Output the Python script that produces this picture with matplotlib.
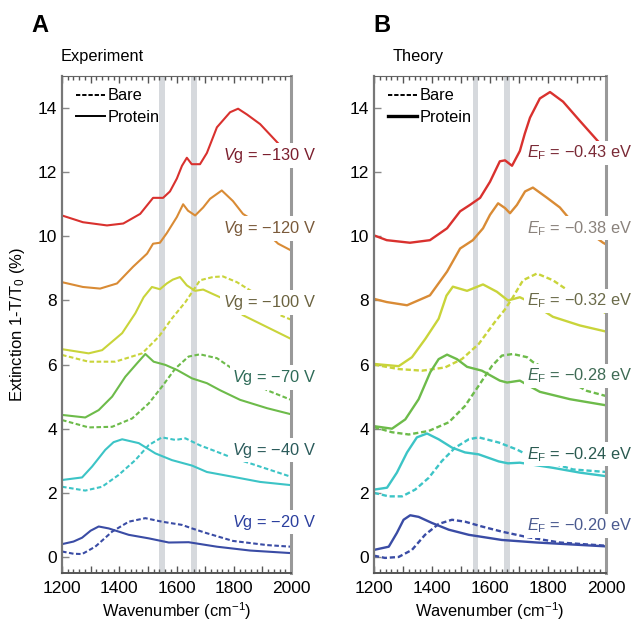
import matplotlib
matplotlib.use("Agg")
import matplotlib.pyplot as plt
from matplotlib.lines import Line2D
from matplotlib.ticker import MultipleLocator, FuncFormatter

plt.rcParams['font.family'] = ['Liberation Sans', 'DejaVu Sans']
plt.rcParams['mathtext.fontset'] = 'custom'
plt.rcParams['mathtext.rm'] = 'Liberation Sans'
plt.rcParams['mathtext.it'] = 'Liberation Sans:italic'

# line colours (same order for both panels, top to bottom)
line_colors = ['#d9312e', '#d98b35', '#c9d43a', '#6dbb4a', '#3cc4c6', '#3a4ca5']

# ---- Experiment (panel A) ----
exp_labels = [r'$V$g = −130 V', r'$V$g = −120 V', r'$V$g = −100 V',
              r'$V$g = −70 V', r'$V$g = −40 V', r'$V$g = −20 V']
exp_label_colors = ['#7b1f2e', '#7a5a3a', '#6b6340', '#2e6b58', '#2b5b5b', '#2b3f9e']
exp_label_y = [12.52, 10.25, 7.94, 5.6, 3.33, 1.09]

exp_130_x = [1200, 1273, 1357, 1414, 1473, 1518, 1553, 1577, 1601, 1619, 1636, 1653, 1682, 1706, 1741, 1787, 1815, 1846, 1892, 1955, 2000]
exp_130_y = [10.65, 10.44, 10.34, 10.4, 10.7, 11.2, 11.2, 11.4, 11.8, 12.2, 12.45, 12.25, 12.25, 12.6, 13.4, 13.87, 13.98, 13.8, 13.5, 12.9, 12.5]

exp_120_x = [1200, 1273, 1333, 1392, 1448, 1497, 1518, 1542, 1566, 1601, 1623, 1640, 1665, 1693, 1717, 1758, 1797, 1832, 1867, 1955, 2000]
exp_120_y = [8.57, 8.42, 8.37, 8.53, 9.05, 9.46, 9.77, 9.8, 10.1, 10.6, 11.0, 10.8, 10.65, 10.9, 11.17, 11.43, 11.1, 10.7, 10.5, 9.77, 9.56]

exp_100_x = [1200, 1293, 1340, 1410, 1456, 1485, 1514, 1542, 1566, 1587, 1612, 1636, 1665, 1693, 1727, 1752, 1832, 1916, 2000]
exp_100_y = [6.48, 6.35, 6.45, 6.98, 7.6, 8.1, 8.42, 8.35, 8.53, 8.65, 8.73, 8.47, 8.3, 8.34, 8.2, 8.1, 7.54, 7.17, 6.8]
exp_100_bare_x = [1200, 1293, 1386, 1480, 1538, 1584, 1631, 1682, 1727, 1762, 1811, 1867, 1962, 2000]
exp_100_bare_y = [6.3, 6.09, 6.09, 6.35, 6.87, 7.44, 7.95, 8.63, 8.73, 8.75, 8.57, 8.26, 7.54, 7.4]

exp_70_x = [1200, 1281, 1328, 1375, 1421, 1462, 1491, 1520, 1561, 1602, 1654, 1706, 1752, 1822, 1916, 2000]
exp_70_y = [4.43, 4.35, 4.58, 5.0, 5.62, 6.04, 6.33, 6.09, 5.99, 5.83, 5.57, 5.42, 5.2, 4.9, 4.64, 4.45]
exp_70_bare_x = [1200, 1293, 1375, 1445, 1503, 1549, 1596, 1642, 1682, 1741, 1787, 1916, 2000]
exp_70_bare_y = [4.27, 4.04, 4.06, 4.32, 4.79, 5.31, 5.88, 6.25, 6.32, 6.2, 5.92, 5.2, 4.9]

exp_40_x = [1200, 1270, 1305, 1351, 1380, 1410, 1468, 1526, 1584, 1654, 1706, 1797, 1892, 2000]
exp_40_y = [2.4, 2.48, 2.82, 3.34, 3.58, 3.67, 3.55, 3.23, 3.02, 2.85, 2.65, 2.5, 2.34, 2.24]
exp_40_bare_x = [1200, 1281, 1340, 1398, 1456, 1503, 1549, 1596, 1631, 1682, 1741, 1787, 1857, 2000]
exp_40_bare_y = [2.19, 2.07, 2.19, 2.56, 3.02, 3.49, 3.73, 3.65, 3.7, 3.48, 3.28, 3.12, 2.92, 2.5]

exp_20_x = [1200, 1240, 1270, 1300, 1328, 1363, 1433, 1503, 1573, 1642, 1741, 1857, 2000]
exp_20_y = [0.4, 0.48, 0.6, 0.82, 0.95, 0.89, 0.69, 0.58, 0.45, 0.46, 0.32, 0.2, 0.12]
exp_20_bare_x = [1200, 1240, 1270, 1316, 1345, 1375, 1433, 1491, 1549, 1619, 1654, 1706, 1797, 1916, 2000]
exp_20_bare_y = [0.17, 0.1, 0.09, 0.32, 0.55, 0.79, 1.1, 1.21, 1.1, 1.0, 0.89, 0.74, 0.5, 0.37, 0.32]

# ---- Theory (panel B) ----
th_labels = [r'$E_{\mathrm{F}}$ = −0.43 eV', r'$E_{\mathrm{F}}$ = −0.38 eV', r'$E_{\mathrm{F}}$ = −0.32 eV',
             r'$E_{\mathrm{F}}$ = −0.28 eV', r'$E_{\mathrm{F}}$ = −0.24 eV', r'$E_{\mathrm{F}}$ = −0.20 eV']
th_label_colors = ['#7a2a36', '#8a827c', '#6b6b4a', '#3f6b55', '#2a5a50', '#4a5a8f']
th_label_y = [12.6, 10.25, 7.99, 5.64, 3.2, 0.97]

th_43_x = [1200, 1244, 1324, 1393, 1452, 1497, 1531, 1566, 1600, 1634, 1652, 1676, 1703, 1720, 1738, 1772, 1807, 1852, 1910, 1972, 2000]
th_43_y = [10.03, 9.88, 9.8, 9.88, 10.25, 10.78, 10.98, 11.2, 11.7, 12.34, 12.37, 12.2, 12.66, 13.2, 13.7, 14.3, 14.5, 14.2, 13.6, 12.97, 12.7]

th_38_x = [1200, 1244, 1314, 1393, 1452, 1497, 1541, 1576, 1600, 1628, 1652, 1669, 1693, 1721, 1748, 1797, 1841, 1869, 1990, 2000]
th_38_y = [8.05, 7.95, 7.85, 8.16, 8.9, 9.62, 9.88, 10.25, 10.67, 11.03, 10.88, 10.72, 10.98, 11.4, 11.52, 11.2, 10.9, 10.6, 9.8, 9.75]

th_32_x = [1200, 1285, 1331, 1377, 1423, 1450, 1472, 1521, 1576, 1624, 1662, 1703, 1738, 1817, 1910, 2000]
th_32_y = [6.02, 5.95, 6.23, 6.8, 7.43, 8.15, 8.43, 8.3, 8.5, 8.27, 8.0, 8.1, 7.95, 7.49, 7.22, 7.03]
th_32_bare_x = [1200, 1285, 1366, 1445, 1503, 1561, 1617, 1650, 1679, 1714, 1762, 1817, 1876, 2000]
th_32_bare_y = [6.0, 5.86, 5.81, 5.91, 6.17, 6.64, 7.33, 7.7, 8.1, 8.63, 8.84, 8.63, 8.27, 7.6]

th_28_x = [1200, 1262, 1308, 1354, 1394, 1423, 1452, 1486, 1521, 1572, 1634, 1659, 1703, 1738, 1772, 1876, 2000]
th_28_y = [4.08, 4.0, 4.29, 4.92, 5.76, 6.17, 6.31, 6.17, 5.93, 5.81, 5.5, 5.44, 5.5, 5.32, 5.15, 4.92, 4.73]
th_28_bare_x = [1200, 1262, 1320, 1389, 1458, 1514, 1561, 1607, 1641, 1679, 1728, 1748, 1934, 2000]
th_28_bare_y = [4.05, 3.89, 3.82, 3.93, 4.2, 4.71, 5.34, 5.96, 6.28, 6.33, 6.23, 6.08, 5.18, 5.02]

th_24_x = [1200, 1245, 1279, 1314, 1348, 1383, 1423, 1469, 1514, 1561, 1630, 1662, 1703, 1817, 1910, 2000]
th_24_y = [2.1, 2.16, 2.63, 3.26, 3.73, 3.85, 3.67, 3.41, 3.26, 3.2, 2.98, 2.92, 2.94, 2.78, 2.63, 2.52]
th_24_bare_x = [1200, 1251, 1297, 1342, 1389, 1434, 1480, 1527, 1561, 1630, 1693, 1738, 1886, 2000]
th_24_bare_y = [2.0, 1.89, 1.89, 2.1, 2.47, 2.99, 3.41, 3.67, 3.73, 3.57, 3.35, 3.14, 2.73, 2.65]

th_20_x = [1200, 1251, 1279, 1302, 1325, 1354, 1400, 1458, 1527, 1641, 1762, 2000]
th_20_y = [0.22, 0.32, 0.75, 1.16, 1.3, 1.25, 1.06, 0.85, 0.69, 0.53, 0.45, 0.33]
th_20_bare_x = [1200, 1238, 1285, 1331, 1376, 1423, 1469, 1514, 1572, 1641, 1728, 1841, 2000]
th_20_bare_y = [0.04, -0.03, 0.0, 0.22, 0.69, 1.03, 1.16, 1.1, 0.95, 0.79, 0.62, 0.45, 0.35]

# amide bands (cm-1)
bands = [(1540, 1560), (1650, 1670)]

exp_protein = [(exp_130_x, exp_130_y), (exp_120_x, exp_120_y), (exp_100_x, exp_100_y),
               (exp_70_x, exp_70_y), (exp_40_x, exp_40_y), (exp_20_x, exp_20_y)]
exp_bare = [None, None, (exp_100_bare_x, exp_100_bare_y), (exp_70_bare_x, exp_70_bare_y),
            (exp_40_bare_x, exp_40_bare_y), (exp_20_bare_x, exp_20_bare_y)]
th_protein = [(th_43_x, th_43_y), (th_38_x, th_38_y), (th_32_x, th_32_y),
              (th_28_x, th_28_y), (th_24_x, th_24_y), (th_20_x, th_20_y)]
th_bare = [None, None, (th_32_bare_x, th_32_bare_y), (th_28_bare_x, th_28_bare_y),
           (th_24_bare_x, th_24_bare_y), (th_20_bare_x, th_20_bare_y)]


def style_axes(ax):
    ax.set_xlim(1200, 2000)
    ax.set_ylim(-0.5, 15)
    for a, b in bands:
        ax.axvspan(a, b, color='#d6d9dd', lw=0, zorder=0)
    ax.xaxis.set_major_locator(MultipleLocator(100))
    ax.xaxis.set_minor_locator(MultipleLocator(20))
    ax.xaxis.set_major_formatter(FuncFormatter(lambda v, p: '%d' % v if v % 200 == 0 else ''))
    ax.yaxis.set_major_locator(MultipleLocator(2))
    ax.tick_params(axis='x', which='both', direction='in', top=True, bottom=True,
                   color='#555555', labelsize=12.5, pad=6)
    ax.tick_params(axis='x', which='major', length=5, width=1)
    ax.tick_params(axis='x', which='minor', length=3, width=1)
    ax.tick_params(axis='y', direction='in', length=5, width=1, color='#888888',
                   labelsize=12.5, right=False)
    ax.spines['left'].set_color('#777777')
    ax.spines['left'].set_linewidth(1.6)
    ax.spines['right'].set_color('#999999')
    ax.spines['right'].set_linewidth(2.2)
    ax.spines['top'].set_color('#666666')
    ax.spines['bottom'].set_color('#555555')
    ax.spines['bottom'].set_linewidth(1.4)
    ax.set_xlabel('Wavenumber (cm$^{-1}$)', fontsize=11.8, labelpad=3)


def draw_panel(ax, protein, bare, labels, label_colors, label_y, lw, legend_lw):
    style_axes(ax)
    for i in range(6):
        if bare[i] is not None:
            ax.plot(bare[i][0], bare[i][1], color=line_colors[i], lw=lw, ls=(0, (2.2, 1.2)), zorder=2)
        ax.plot(protein[i][0], protein[i][1], color=line_colors[i], lw=lw, zorder=2,
                solid_joinstyle='round')
        ax.text(2088, label_y[i], labels[i], color=label_colors[i], fontsize=11.8,
                ha='right', va='center', clip_on=False, zorder=4,
                bbox=dict(fc='white', ec='none', pad=2))
    handles = [Line2D([], [], color='black', lw=1.4, ls=(0, (2.2, 1.0))),
               Line2D([], [], color='black', lw=legend_lw)]
    ax.legend(handles, ['Bare', 'Protein'], loc='upper left', bbox_to_anchor=(0.06, 0.975),
              frameon=False, fontsize=11.8, handlelength=1.8, handletextpad=0.15,
              labelspacing=0.4, borderpad=0, borderaxespad=0)


fig = plt.figure(figsize=(6.33, 6.22), dpi=100)
ax_a = fig.add_axes([0.098, 0.0788, 0.3618, 0.799])
ax_b = fig.add_axes([0.5908, 0.0788, 0.3665, 0.799])

draw_panel(ax_a, exp_protein, exp_bare, exp_labels, exp_label_colors, exp_label_y, 1.5, 1.4)
draw_panel(ax_b, th_protein, th_bare, th_labels, th_label_colors, th_label_y, 1.7, 2.4)

ax_a.set_ylabel('Extinction 1-T/T$_0$ (%)', fontsize=12, labelpad=8)

fig.text(31 / 633, 1 - 25 / 622, 'A', fontsize=17, fontweight='bold', ha='left', va='center')
fig.text(373 / 633, 1 - 25 / 622, 'B', fontsize=17, fontweight='bold', ha='left', va='center')
fig.text(61 / 633, 1 - 57 / 622, 'Experiment', fontsize=11.8, ha='left', va='center')
fig.text(393 / 633, 1 - 57 / 622, 'Theory', fontsize=11.8, ha='left', va='center')

fig.savefig('out.png', dpi=100, facecolor='white')
